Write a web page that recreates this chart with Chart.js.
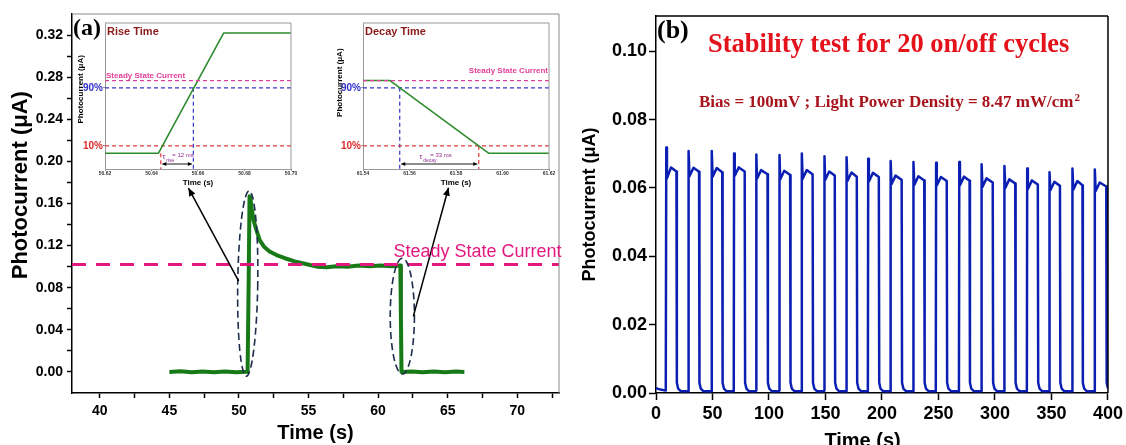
<!DOCTYPE html>
<html>
<head>
<meta charset="utf-8">
<script src="https://cdn.jsdelivr.net/npm/chart.js@4.4.1/dist/chart.umd.min.js"></script>
<style>
html,body{margin:0;padding:0;background:#fff;overflow:hidden;}
body{width:1126px;height:445px;position:relative;}
canvas{position:absolute;}
</style>
</head>
<body>
<canvas id="cA" width="570" height="445" style="left:0px;top:0px"></canvas>
<canvas id="cRise" width="230" height="180" style="left:70px;top:15px"></canvas>
<canvas id="cDecay" width="240" height="180" style="left:330px;top:15px"></canvas>
<canvas id="cB" width="556" height="460" style="left:570px;top:0px"></canvas>
<script>
// ================= DATA =================
// Panel (a): single on/off transient (time in s, photocurrent in uA)
const timeA = [45.0, 45.8, 46.6, 47.4, 48.2, 49.0, 49.8, 50.55, 50.62, 50.70, 50.76, 50.82, 50.92, 51.05, 51.25, 51.5, 51.8, 52.2, 52.7, 53.3, 54.0, 54.8, 55.6, 56.3, 57.0, 57.8, 58.6, 59.4, 60.2, 61.0, 61.60, 61.64, 61.68, 62.4, 63.2, 64.0, 64.8, 65.6, 66.2];
const currentA = [0.0000, 0.0006, -0.0004, 0.0005, -0.0003, 0.0004, -0.0002, 0.0003, 0.0000, 0.090, 0.167, 0.165, 0.155, 0.144, 0.135, 0.125, 0.119, 0.1145, 0.111, 0.108, 0.105, 0.1025, 0.1000, 0.0995, 0.1005, 0.1000, 0.1010, 0.1003, 0.1010, 0.1005, 0.1010, 0.0500, 0.0000, 0.0005, -0.0003, 0.0004, -0.0002, 0.0004, 0.0000];
const steadyStateA = 0.102;
const xTicksA = [40, 45, 50, 55, 60, 65, 70];
const xMinorTicksA = [42.5, 47.5, 52.5, 57.5, 62.5, 67.5, 72.5];
const yTicksA = [0, 0.04, 0.08, 0.12, 0.16, 0.20, 0.24, 0.28, 0.32];
const yMinorTicksA = [0.02, 0.06, 0.10, 0.14, 0.18, 0.22, 0.26, 0.30];

// Inset: rise time
const riseTime = [50.62, 50.643, 50.671, 50.70];
const riseCurrent = [0, 0, 0.167, 0.167];
const riseTicks = [50.62, 50.64, 50.66, 50.68, 50.70];
const riseT90 = 50.658, riseT10 = 50.644;
// Inset: decay time
const decayTime = [61.54, 61.5516, 61.594, 61.62];
const decayCurrent = [0.101, 0.101, 0, 0];
const decayTicks = [61.54, 61.56, 61.58, 61.60, 61.62];
const decayT90 = 61.5558, decayT10 = 61.5898;
// shared inset levels
const insetSteady = 0.101;
const level90 = 0.0909;
const level10 = 0.0101;

// Panel (b): 20 on/off cycles
const onTimesB  = [8.8, 28.7, 49.2, 68.8, 88.5, 109.0, 128.9, 148.8, 168.5, 187.5, 207.5, 227.7, 247.6, 268.1, 288.0, 308.2, 328.2, 348.1, 368.4, 388.2];
const offTimesB = [18.1, 38.1, 58.6, 78.5, 98.7, 118.7, 138.6, 158.2, 177.7, 197.2, 217.4, 237.4, 257.3, 277.5, 298.0, 317.9, 337.9, 357.5, 377.4, 398.5];
const peakB = [0.0718, 0.0708, 0.0708, 0.0701, 0.0698, 0.0696, 0.0701, 0.0693, 0.0690, 0.0685, 0.0679, 0.0676, 0.0674, 0.0676, 0.0669, 0.0664, 0.0657, 0.0646, 0.0657, 0.0654];
const dipB  = [0.0628, 0.0634, 0.0633, 0.0636, 0.0627, 0.0625, 0.0627, 0.0623, 0.0620, 0.0619, 0.0611, 0.0609, 0.0607, 0.0608, 0.0603, 0.0600, 0.0597, 0.0593, 0.0595, 0.0591];
const humpB = [0.0660, 0.0659, 0.0658, 0.0660, 0.0652, 0.0650, 0.0652, 0.0648, 0.0645, 0.0644, 0.0636, 0.0634, 0.0632, 0.0633, 0.0628, 0.0625, 0.0622, 0.0618, 0.0620, 0.0616];
const endB  = [0.0648, 0.0647, 0.0646, 0.0648, 0.0640, 0.0638, 0.0640, 0.0636, 0.0633, 0.0632, 0.0624, 0.0622, 0.0620, 0.0621, 0.0616, 0.0613, 0.0610, 0.0606, 0.0608, 0.0604];
const startB = [0.0014, 0.0010, 0.0007];
const tailB = [0.0030, 0.0013, 0.0005];
const xTicksB = [0, 50, 100, 150, 200, 250, 300, 350, 400];
const yTicksB = [0, 0.02, 0.04, 0.06, 0.08, 0.10];

// ================= HELPERS =================
Chart.defaults.font.family = "'Liberation Sans', Arial, sans-serif";
Chart.defaults.color = '#000';

const pairs = (xs, ys) => xs.map((x, i) => ({x: x, y: ys[i]}));
const hLine = (x0, x1, y) => [{x: x0, y: y}, {x: x1, y: y}];
const vLine = (x, y0, y1) => [{x: x, y: y0}, {x: x, y: y1}];
const lineDS = (data, color, width, dash) => ({
  data: data, borderColor: color, borderWidth: width, borderDash: dash || [],
  pointRadius: 0, pointHoverRadius: 0, fill: false, tension: 0,
  borderJoinStyle: 'round', borderCapStyle: 'butt'
});

function setTicks(major, minor, fmt) {
  return function (scale) {
    const t = major.map(v => ({value: v, lab: fmt(v)}))
      .concat((minor || []).map(v => ({value: v, lab: ''})));
    t.sort((a, b) => a.value - b.value);
    scale.ticks = t;
  };
}
const tickLabel = (v, i, ticks) => (ticks[i] && ticks[i].lab !== undefined) ? ticks[i].lab : '';

function axis(o) {
  return {
    type: 'linear', min: o.min, max: o.max, position: o.pos,
    afterBuildTicks: setTicks(o.major, o.minor, o.fmt),
    afterFit: o.fit,
    grid: {display: true, drawOnChartArea: false, drawTicks: true, tickLength: o.tickLen, tickWidth: o.lw, tickColor: o.color},
    border: {display: true, color: o.color, width: o.lw},
    ticks: {autoSkip: false, maxRotation: 0, minRotation: 0, padding: o.pad, font: o.font, color: o.tickColor || '#000', callback: tickLabel},
    title: {display: !!o.title, text: o.title, font: o.titleFont, color: '#000', padding: o.titlePad}
  };
}

function framePlugin(color, width, sides) {
  return {
    id: 'frame',
    afterDraw(chart) {
      const {ctx, chartArea: a} = chart;
      ctx.save();
      ctx.strokeStyle = color; ctx.lineWidth = width; ctx.setLineDash([]);
      ctx.beginPath();
      if (sides.includes('top')) { ctx.moveTo(a.left, a.top); ctx.lineTo(a.right, a.top); }
      if (sides.includes('right')) { ctx.moveTo(a.right, a.top); ctx.lineTo(a.right, a.bottom); }
      if (sides.includes('left')) { ctx.moveTo(a.left, a.top); ctx.lineTo(a.left, a.bottom); }
      if (sides.includes('bottom')) { ctx.moveTo(a.left, a.bottom); ctx.lineTo(a.right, a.bottom); }
      ctx.stroke();
      ctx.restore();
    }
  };
}

function arrowHead(ctx, x1, y1, x2, y2, len, wid) {
  const ang = Math.atan2(y2 - y1, x2 - x1);
  ctx.beginPath();
  ctx.moveTo(x2, y2);
  ctx.lineTo(x2 - len * Math.cos(ang) + wid * Math.sin(ang), y2 - len * Math.sin(ang) - wid * Math.cos(ang));
  ctx.lineTo(x2 - len * Math.cos(ang) - wid * Math.sin(ang), y2 - len * Math.sin(ang) + wid * Math.cos(ang));
  ctx.closePath();
  ctx.fill();
}

const baseOpts = (padding, scales) => ({
  responsive: false, animation: false, devicePixelRatio: 1,
  layout: {padding: padding},
  plugins: {legend: {display: false}, tooltip: {enabled: false}},
  events: [],
  scales: scales
});

// ================= PANEL (a) =================
const annotA = {
  ellipses: [
    {cx: 50.63, cy: 0.084, rx: 0.72, ry: 0.088, rot: 0.015},
    {cx: 61.74, cy: 0.053, rx: 0.87, ry: 0.055, rot: 0}
  ],
  arrows: [
    {from: [49.98, 0.0862], to: [46.37, 0.1747]},
    {from: [62.53, 0.0528], to: [65.06, 0.175]}
  ],
  labelX: 61.1
};

new Chart(document.getElementById('cA'), {
  type: 'line',
  data: {datasets: [
    lineDS(hLine(xTicksA[0] - 2, 73, steadyStateA), '#e3187f', 3, [14, 10]),
    lineDS(pairs(timeA, currentA), '#177a17', 4)
  ]},
  options: baseOpts({left: 0, top: 14, right: 11, bottom: 0}, {
    x: axis({min: 38, max: 73, pos: 'bottom', major: xTicksA, minor: xMinorTicksA, fmt: v => String(v),
      fit: s => { s.height = 52; }, tickLen: 5, lw: 1.5, color: '#000', pad: 5,
      font: {size: 14, weight: 'bold'}, title: 'Time (s)', titleFont: {size: 20, weight: 'bold'}, titlePad: {top: 0, bottom: 0}}),
    y: axis({min: -0.02, max: 0.34, pos: 'left', major: yTicksA, minor: yMinorTicksA, fmt: v => v.toFixed(2),
      fit: s => { s.width = 72; }, tickLen: 5, lw: 1.5, color: '#000', pad: 4,
      font: {size: 14, weight: 'bold'}, title: '      Photocurrent (\u03bcA)', titleFont: {size: 22, weight: 'bold'}, titlePad: {top: 8, bottom: 0}})
  }),
  plugins: [framePlugin('#8a8a8a', 1, ['top', 'right']), {
    id: 'annotA',
    afterDraw(chart) {
      const {ctx, chartArea: a} = chart;
      const xs = chart.scales.x, ys = chart.scales.y;
      ctx.save();
      // ellipses
      ctx.strokeStyle = '#1f2d4d'; ctx.lineWidth = 1.6; ctx.setLineDash([7, 4]);
      annotA.ellipses.forEach(e => {
        const cx = xs.getPixelForValue(e.cx), cy = ys.getPixelForValue(e.cy);
        const rx = Math.abs(xs.getPixelForValue(e.cx + e.rx) - cx);
        const ry = Math.abs(ys.getPixelForValue(e.cy + e.ry) - cy);
        ctx.beginPath(); ctx.ellipse(cx, cy, rx, ry, e.rot, 0, Math.PI * 2); ctx.stroke();
      });
      // arrows
      ctx.setLineDash([]); ctx.strokeStyle = '#000'; ctx.fillStyle = '#000'; ctx.lineWidth = 1.5;
      annotA.arrows.forEach(r => {
        const x1 = xs.getPixelForValue(r.from[0]), y1 = ys.getPixelForValue(r.from[1]);
        const x2 = xs.getPixelForValue(r.to[0]), y2 = ys.getPixelForValue(r.to[1]);
        ctx.beginPath(); ctx.moveTo(x1, y1); ctx.lineTo(x2, y2); ctx.stroke();
        arrowHead(ctx, x1, y1, x2, y2, 8, 3.5);
      });
      // steady-state label
      ctx.fillStyle = '#e3187f';
      ctx.font = "18px 'Liberation Sans', Arial, sans-serif";
      ctx.textAlign = 'left'; ctx.textBaseline = 'alphabetic';
      ctx.fillText('Steady State Current', xs.getPixelForValue(annotA.labelX), ys.getPixelForValue(steadyStateA) - 8);
      // panel letter
      ctx.fillStyle = '#000';
      ctx.font = "bold 24px 'Liberation Serif', 'Times New Roman', serif";
      ctx.fillText('(a)', a.left + 1, a.top + 21);
      ctx.restore();
    }
  }]
});

// ================= INSETS =================
function makeInset(id, cfg) {
  const yMin = -0.022, yMax = 0.181;
  const x0 = cfg.ticks[0], x1 = cfg.ticks[cfg.ticks.length - 1];
  new Chart(document.getElementById(id), {
    type: 'line',
    data: {datasets: [
      lineDS(hLine(x0, x1, insetSteady), '#e0409a', 1.2, [4, 3]),
      lineDS(pairs(cfg.time, cfg.current), '#2e8b2e', 1.6),
      lineDS(hLine(x0, x1, level90), '#3434c8', 1.2, [4, 3]),
      lineDS(hLine(x0, x1, level10), '#e03a3a', 1.2, [4, 3]),
      lineDS(vLine(cfg.t90, level90, yMin), '#3434c8', 1.2, [4, 3]),
      lineDS(vLine(cfg.t10, cfg.redTop, yMin), '#e03a3a', 1.2, [4, 3])
    ]},
    options: baseOpts({left: 0, top: 8, right: cfg.padRight, bottom: 0}, {
      x: axis({min: x0, max: x1, pos: 'bottom', major: cfg.ticks, minor: [], fmt: v => v.toFixed(2),
        fit: s => { s.height = 26; }, tickLen: 2, lw: 1, color: '#999', pad: 0, tickColor: '#333',
        font: {size: 5, weight: 'bold'}, title: 'Time (s)', titleFont: {size: 8, weight: 'bold'}, titlePad: {top: 0, bottom: 7}}),
      y: axis({min: yMin, max: yMax, pos: 'left', major: [level10, level90], minor: [], fmt: v => (v > 0.05 ? '90%' : '10%'),
        fit: s => { s.width = cfg.yWidth; }, tickLen: 2, lw: 1, color: '#999', pad: 0,
        tickColor: c => (c.tick && c.tick.value > 0.05) ? '#2f2fc8' : '#e02a2a',
        font: {size: 10, weight: 'bold'}, title: cfg.yTitle, titleFont: {size: 8, weight: 'bold'}, titlePad: {top: cfg.yTitlePad, bottom: 0}})
    }),
    plugins: [framePlugin('#999', 1, ['top', 'right']), {
      id: 'insetAnnot',
      afterDraw(chart) {
        const {ctx, chartArea: a} = chart;
        const xs = chart.scales.x, ys = chart.scales.y;
        ctx.save();
        ctx.textBaseline = 'alphabetic';
        // title
        ctx.fillStyle = '#8b1a1a';
        ctx.font = "bold 11px 'Liberation Sans', Arial, sans-serif";
        ctx.textAlign = 'left';
        ctx.fillText(cfg.title, a.left + 2, a.top + 12);
        // steady state label
        ctx.fillStyle = '#e0409a';
        ctx.font = "bold 8px 'Liberation Sans', Arial, sans-serif";
        if (cfg.steadyRight) {
          ctx.textAlign = 'right';
          ctx.fillText('Steady State Current', a.right - 1, ys.getPixelForValue(insetSteady) - 8);
        } else {
          ctx.textAlign = 'left';
          ctx.fillText('Steady State Current', a.left + 1, ys.getPixelForValue(insetSteady) - 3);
        }
        // double arrow
        const xa = xs.getPixelForValue(Math.min(cfg.t10, cfg.t90)) + 1.5;
        const xb = xs.getPixelForValue(Math.max(cfg.t10, cfg.t90)) - 1.5;
        const ya = a.bottom - 5;
        ctx.strokeStyle = '#000'; ctx.fillStyle = '#000'; ctx.lineWidth = 0.9;
        ctx.beginPath(); ctx.moveTo(xa, ya); ctx.lineTo(xb, ya); ctx.stroke();
        arrowHead(ctx, xb, ya, xa, ya, 4, 2);
        arrowHead(ctx, xa, ya, xb, ya, 4, 2);
        // tau label
        const tx = xa + cfg.tauOffset;
        ctx.fillStyle = '#8e2c8e'; ctx.textAlign = 'left';
        ctx.font = "8px 'Liberation Sans', Arial, sans-serif";
        ctx.fillText('\u03c4', tx, a.bottom - 10);
        ctx.font = "5px 'Liberation Sans', Arial, sans-serif";
        ctx.fillText(cfg.tauSub, tx + 4, a.bottom - 7.5);
        ctx.font = "6px 'Liberation Sans', Arial, sans-serif";
        ctx.fillText(cfg.tauText, tx + cfg.tauTextOff, a.bottom - 12);
        ctx.restore();
      }
    }]
  });
}

makeInset('cRise', {time: riseTime, current: riseCurrent, ticks: riseTicks, t90: riseT90, t10: riseT10,
  redTop: 0, padRight: 9, yWidth: 35, yTitle: '      Photocurrent (\u03bcA)', yTitlePad: 6,
  title: 'Rise Time', steadyRight: false, tauSub: 'rise', tauText: '= 12 ms', tauOffset: 0, tauTextOff: 10});
makeInset('cDecay', {time: decayTime, current: decayCurrent, ticks: decayTicks, t90: decayT90, t10: decayT10,
  redTop: level10, padRight: 21, yWidth: 33, yTitle: '            Photocurrent (\u03bcA)', yTitlePad: 5,
  title: 'Decay Time', steadyRight: true, tauSub: 'decay', tauText: '= 33 ms', tauOffset: 18, tauTextOff: 11});

// ================= PANEL (b) =================
const ptsB = [{x: 0, y: startB[0]}, {x: 4, y: startB[1]}, {x: onTimesB[0] - 0.15, y: startB[2]}];
for (let i = 0; i < onTimesB.length; i++) {
  ptsB.push({x: onTimesB[i], y: startB[2]});
  ptsB.push({x: onTimesB[i] + 0.3, y: peakB[i]});
  ptsB.push({x: onTimesB[i] + 0.9, y: dipB[i]});
  ptsB.push({x: onTimesB[i] + 4.5, y: humpB[i]});
  ptsB.push({x: offTimesB[i], y: endB[i]});
  ptsB.push({x: offTimesB[i] + 0.35, y: tailB[0]});
  ptsB.push({x: offTimesB[i] + 1.5, y: tailB[1]});
  ptsB.push({x: offTimesB[i] + 4.0, y: tailB[2]});
  if (i < onTimesB.length - 1) ptsB.push({x: onTimesB[i + 1] - 0.15, y: tailB[2]});
}

new Chart(document.getElementById('cB'), {
  type: 'line',
  data: {datasets: [lineDS(ptsB, '#0b1fb3', 2.5)]},
  options: baseOpts({left: 0, top: 16, right: 15, bottom: 0}, {
    x: axis({min: 0, max: 400, pos: 'bottom', major: xTicksB, minor: [], fmt: v => String(v),
      fit: s => { s.height = 67; }, tickLen: 7, lw: 1.5, color: '#000', pad: 3,
      font: {size: 18, weight: 'bold'}, title: 'Time (s)       ', titleFont: {size: 20, weight: 'bold'}, titlePad: {top: 0, bottom: 7}}),
    y: axis({min: 0, max: 0.1103, pos: 'left', major: yTicksB, minor: [], fmt: v => v.toFixed(2),
      fit: s => { s.width = 86; }, tickLen: 7, lw: 1.5, color: '#000', pad: 2,
      font: {size: 18, weight: 'bold'}, title: 'Photocurrent (\u03bcA)', titleFont: {size: 18, weight: 'bold'}, titlePad: {top: 9, bottom: 0}})
  }),
  plugins: [framePlugin('#000', 1.5, ['top', 'right']), {
    id: 'annotB',
    afterDraw(chart) {
      const {ctx, chartArea: a} = chart;
      ctx.save();
      ctx.textAlign = 'left'; ctx.textBaseline = 'alphabetic';
      ctx.fillStyle = '#000';
      ctx.font = "bold 26px 'Liberation Serif', 'Times New Roman', serif";
      ctx.fillText('(b)', a.left + 1, a.top + 22);
      ctx.fillStyle = '#e3121b';
      ctx.font = "bold 26.5px 'Liberation Serif', 'Times New Roman', serif";
      ctx.fillText('Stability test for 20 on/off cycles', a.left + 52, a.top + 36);
      ctx.fillStyle = '#a8141c';
      ctx.font = "bold 17px 'Liberation Serif', 'Times New Roman', serif";
      const s = 'Bias = 100mV ; Light Power Density = 8.47 mW/cm';
      const bx = a.left + 43, by = a.top + 91;
      ctx.fillText(s, bx, by);
      const w = ctx.measureText(s).width;
      ctx.font = "bold 11px 'Liberation Serif', 'Times New Roman', serif";
      ctx.fillText('2', bx + w + 1, by - 6);
      ctx.restore();
    }
  }]
});
</script>
</body>
</html>
